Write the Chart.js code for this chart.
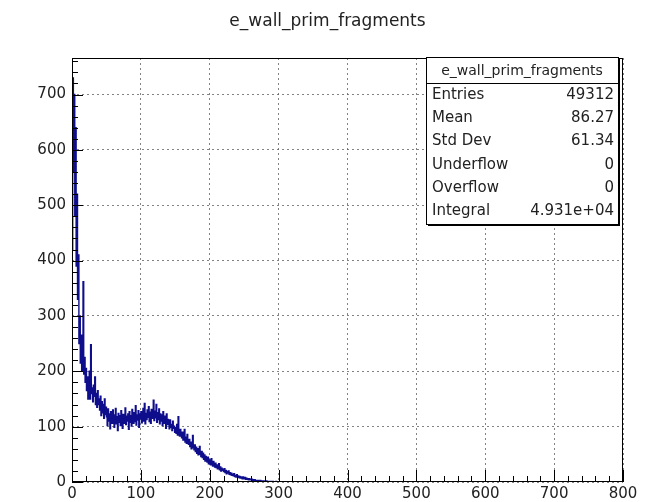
<!DOCTYPE html>
<html>
<head>
<meta charset="utf-8">
<script src="https://cdn.jsdelivr.net/npm/chart.js@4"></script>
<style>
  html, body { margin: 0; padding: 0; background: #fff; }
  #wrap { width: 655px; height: 502px; }
</style>
</head>
<body>
<div id="wrap"><canvas id="hist" width="655" height="502"></canvas></div>
<script>
const histTitle = 'e_wall_prim_fragments';
const xRange = [0, 800];
const yRange = [0, 766];
const binWidth = 1;

// bin contents, one per unit bin starting at 0 (everything past 300 is empty)
const counts = [
  420, 730, 560, 700, 480, 640, 390, 520, 330, 410,
  250, 300, 215, 265, 200, 240, 362, 195, 225, 180,
  205, 165, 190, 150, 175, 200, 150, 248, 160, 170,
  145, 175, 155, 190, 140, 160, 135, 165, 140, 150,
  130, 155, 120, 145, 125, 140, 115, 150, 122, 135,
  118, 102, 132, 110, 123, 96, 127, 115, 106, 130,
  114, 99, 121, 133, 105, 118, 93, 124, 108, 120,
  102, 129, 111, 97, 122, 113, 106, 134, 104, 119,
  110, 123, 95, 127, 108, 120, 101, 131, 112, 106,
  125, 109, 138, 103, 121, 112, 129, 99, 123, 114,
  127, 107, 120, 133, 110, 142, 105, 124, 113, 130,
  117, 136, 109, 126, 106, 131, 115, 123, 148, 111,
  128, 116, 140, 108, 125, 113, 132, 105, 123, 110,
  121, 102, 127, 111, 106, 119, 97, 123, 104, 113,
  108, 96, 112, 99, 104, 93, 110, 97, 101, 90,
  98, 88, 104, 85, 118, 92, 83, 95, 86, 80,
  90, 76, 84, 95, 72, 81, 70, 86, 74, 68,
  77, 64, 72, 60, 70, 84, 62, 58, 67, 55,
  63, 52, 60, 49, 57, 64, 50, 46, 55, 44,
  52, 41, 49, 38, 46, 43, 36, 45, 33, 40,
  38, 31, 42, 34, 29, 37, 32, 27, 34, 26,
  31, 24, 28, 33, 22, 27, 20, 25, 21, 23,
  19, 24, 17, 21, 15, 19, 16, 20, 14, 17,
  13, 16, 12, 14, 11, 15, 10, 12, 9, 13,
  9, 11, 8, 10, 7, 9, 8, 6, 9, 7,
  6, 8, 5, 7, 5, 6, 4, 6, 4, 5,
  4, 5, 3, 4, 3, 4, 2, 3, 3, 2,
  3, 2, 2, 3, 1, 2, 2, 1, 2, 1,
  1, 1, 2, 0, 1, 1, 0, 1, 0, 1,
  0, 1, 0, 0, 0, 0, 1, 0, 0, 0
];

const statNames = ['Entries', 'Mean', 'Std Dev', 'Underflow', 'Overflow', 'Integral'];
const statValues = ['49312', '86.27', '61.34', '0', '0', '4.931e+04'];

const FONT = '"DejaVu Sans", Arial, Helvetica, sans-serif';

// histogram drawn as a step line through bin centres
const points = counts.map((c, i) => ({ x: xRange[0] + (i + 0.5) * binWidth, y: c }));
points.push({ x: xRange[1], y: 0 });

// ROOT style title, frame, inward ticks and stats box
const rootDecor = {
  id: 'rootDecor',
  afterDatasetsDraw(chart) {
    const { ctx, chartArea: a, scales } = chart;
    const xs = scales.x, ys = scales.y;
    ctx.save();

    ctx.fillStyle = '#222';
    ctx.font = '17px ' + FONT;
    ctx.textAlign = 'center';
    ctx.textBaseline = 'middle';
    ctx.fillText(histTitle, chart.width / 2, 22);

    ctx.strokeStyle = '#000';
    ctx.lineWidth = 1;
    ctx.strokeRect(a.left + 0.5, a.top + 0.5, a.right - a.left - 1, a.bottom - a.top - 1);
    ctx.beginPath();
    for (let v = xRange[0]; v <= xRange[1]; v += 20) {
      const px = Math.round(xs.getPixelForValue(v)) + 0.5;
      const len = v % 100 === 0 ? 12 : 6;
      ctx.moveTo(px, a.bottom);
      ctx.lineTo(px, a.bottom - len);
    }
    for (let v = 0; v <= yRange[1]; v += 20) {
      const py = Math.round(ys.getPixelForValue(v)) + 0.5;
      const len = v % 100 === 0 ? 11 : 6;
      ctx.moveTo(a.left, py);
      ctx.lineTo(a.left + len, py);
    }
    ctx.stroke();

    // stats box
    const bx = 426, by = 57, bw = 192, bh = 167;
    ctx.fillStyle = '#fff';
    ctx.fillRect(bx, by, bw, bh);
    ctx.fillStyle = '#000';
    ctx.fillRect(bx + 2, by + bh, bw, 2);
    ctx.fillRect(bx + bw, by + 2, 2, bh);
    ctx.strokeRect(bx + 0.5, by + 0.5, bw, bh);
    ctx.beginPath();
    ctx.moveTo(bx, by + 26.5);
    ctx.lineTo(bx + bw, by + 26.5);
    ctx.stroke();

    ctx.fillStyle = '#222';
    ctx.font = '14px ' + FONT;
    ctx.textAlign = 'center';
    ctx.fillText(histTitle, bx + bw / 2, by + 14);
    ctx.font = '15px ' + FONT;
    statNames.forEach((name, i) => {
      const ty = by + 38 + i * 23.3;
      ctx.textAlign = 'left';
      ctx.fillText(name, bx + 6, ty);
      ctx.textAlign = 'right';
      ctx.fillText(statValues[i], bx + bw - 4, ty);
    });
    ctx.restore();
  }
};

new Chart(document.getElementById('hist').getContext('2d'), {
  type: 'line',
  data: {
    datasets: [{
      label: histTitle,
      data: points,
      borderColor: 'rgb(14, 14, 140)',
      borderWidth: 1.4,
      pointRadius: 0,
      stepped: 'middle',
      fill: false
    }]
  },
  plugins: [rootDecor],
  options: {
    responsive: false,
    animation: false,
    layout: { padding: { left: 0, right: 32, top: 58, bottom: 0 } },
    plugins: {
      legend: { display: false },
      tooltip: { enabled: false },
      title: { display: false }
    },
    scales: {
      x: {
        type: 'linear',
        min: xRange[0],
        max: xRange[1],
        ticks: {
          stepSize: 100,
          includeBounds: false,
          maxRotation: 0,
          padding: 3,
          color: '#222',
          font: { family: FONT, size: 15 }
        },
        grid: { color: 'rgba(90,90,90,0.75)', lineWidth: 1, drawTicks: false },
        border: { display: false, dash: [2, 3] },
        afterFit(scale) { scale.height = 20; }
      },
      y: {
        type: 'linear',
        min: yRange[0],
        max: yRange[1],
        ticks: {
          stepSize: 100,
          includeBounds: false,
          padding: 6,
          color: '#222',
          font: { family: FONT, size: 15 }
        },
        afterBuildTicks(scale) { scale.ticks = scale.ticks.filter(t => t.value % 100 === 0); },
        grid: { color: 'rgba(90,90,90,0.75)', lineWidth: 1, drawTicks: false },
        border: { display: false, dash: [2, 3] },
        afterFit(scale) { scale.width = 72; }
      }
    }
  }
});
</script>
</body>
</html>
